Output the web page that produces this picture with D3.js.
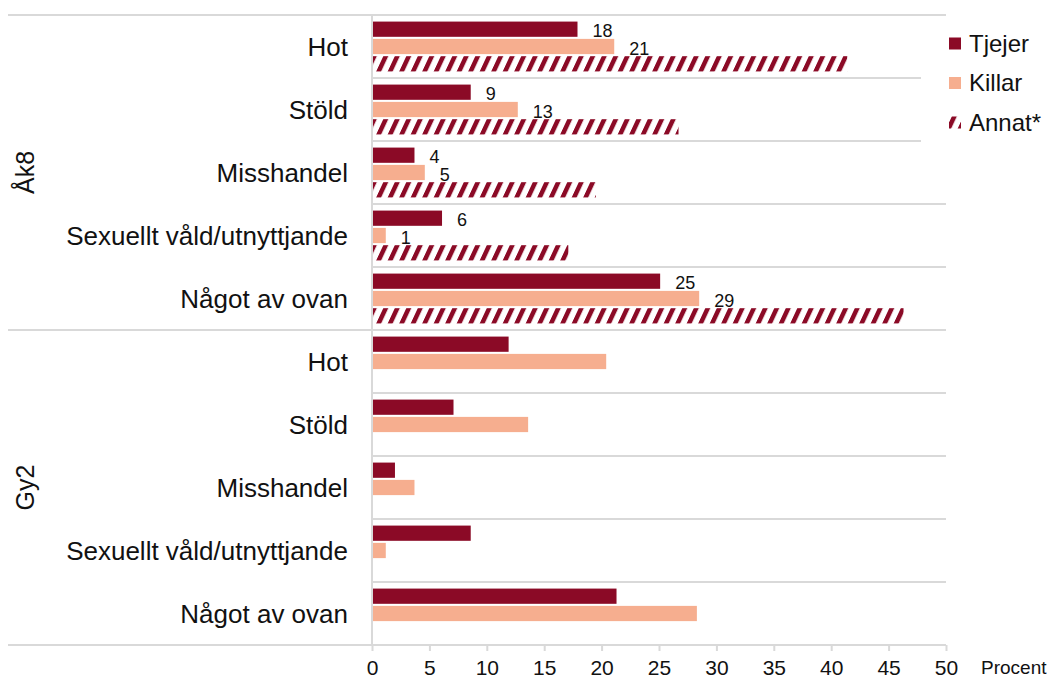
<!DOCTYPE html>
<html>
<head>
<meta charset="utf-8">
<script src="https://cdn.jsdelivr.net/npm/d3@7"></script>
<style>
  body { margin: 0; background: #fff; }
  svg { font-family: "Liberation Sans", Arial, sans-serif; display: block; }
</style>
</head>
<body>
<div id="chart"></div>
<script>
const groups = ['Åk8', 'Gy2'];
const categories = ['Hot', 'Stöld', 'Misshandel', 'Sexuellt våld/utnyttjande', 'Något av ovan'];
const series = ['Tjejer', 'Killar', 'Annat*'];
const xTicks = [0, 5, 10, 15, 20, 25, 30, 35, 40, 45, 50];

const ak8Tjejer = [17.9, 8.6, 3.7, 6.1, 25.1];
const ak8Killar = [21.1, 12.7, 4.6, 1.2, 28.5];
const ak8Annat = [41.4, 26.7, 19.5, 17.1, 46.3];
const gy2Tjejer = [11.9, 7.1, 2.0, 8.6, 21.3];
const gy2Killar = [20.4, 13.6, 3.7, 1.2, 28.3];

const colors = { 'Tjejer': '#8b0a26', 'Killar': '#f6ae8f', 'Annat*': 'url(#hatch)' };

const width = 1049;
const height = 680;
const margin = { top: 15, bottom: 35, left: 372, right: 103 };

const rows = [];
groups.forEach(g => categories.forEach((c, i) => {
  const vals = g === 'Åk8'
    ? [ak8Tjejer[i], ak8Killar[i], ak8Annat[i]]
    : [gy2Tjejer[i], gy2Killar[i], null];
  rows.push({ key: g + '|' + c, group: g, cat: c, values: series.map((s, j) => ({ s, v: vals[j], label: g === 'Åk8' && j < 2 })) });
}));

const svg = d3.select('#chart')
  .append('svg')
  .attr('width', width)
  .attr('height', height);

const defs = svg.append('defs');
const pat = defs.append('pattern')
  .attr('id', 'hatch')
  .attr('patternUnits', 'userSpaceOnUse')
  .attr('width', 11.5)
  .attr('height', 200)
  .attr('patternTransform', 'skewX(-25)');
pat.append('rect').attr('width', 11.5).attr('height', 200).attr('fill', '#fff');
pat.append('rect').attr('width', 5).attr('height', 200).attr('fill', '#8b0a26');

const x = d3.scaleLinear()
  .domain([0, 50])
  .range([margin.left, width - margin.right]);

const y = d3.scaleBand()
  .domain(rows.map(d => d.key))
  .range([margin.top, height - margin.bottom]);

const ySub = d3.scaleBand()
  .domain(series)
  .range([0, y.step()])
  .paddingInner(0.12)
  .paddingOuter(0.38);

const grid = '#d9d9d9';

// category separators
svg.append('g')
  .selectAll('line')
  .data(rows.filter((d, i) => i % 5 !== 0))
  .join('line')
    .attr('x1', x(0))
    .attr('x2', x(50))
    .attr('y1', d => y(d.key))
    .attr('y2', d => y(d.key))
    .attr('stroke', grid)
    .attr('stroke-width', 2);

// group separators
svg.append('g')
  .selectAll('line')
  .data([margin.top, y(rows[5].key), height - margin.bottom])
  .join('line')
    .attr('x1', 8)
    .attr('x2', x(50))
    .attr('y1', d => d)
    .attr('y2', d => d)
    .attr('stroke', grid)
    .attr('stroke-width', 2);

// bars
const rowG = svg.append('g')
  .selectAll('g')
  .data(rows)
  .join('g')
    .attr('transform', d => `translate(0, ${y(d.key)})`);

rowG.selectAll('rect')
  .data(d => d.values.filter(v => v.v != null))
  .join('rect')
    .attr('x', x(0))
    .attr('y', d => ySub(d.s))
    .attr('height', ySub.bandwidth())
    .attr('width', d => x(d.v) - x(0))
    .attr('fill', d => colors[d.s]);

rowG.selectAll('text')
  .data(d => d.values.filter(v => v.label))
  .join('text')
    .attr('x', d => x(d.v) + 15)
    .attr('y', d => ySub(d.s) + ySub.bandwidth() + 0.5)
    .attr('font-size', 18)
    .attr('fill', '#111')
    .text(d => d3.format('.0f')(d.v));

// vertical axis line
svg.append('line')
  .attr('x1', x(0)).attr('x2', x(0))
  .attr('y1', margin.top).attr('y2', height - margin.bottom)
  .attr('stroke', grid)
  .attr('stroke-width', 2);

// x axis
const xAxis = svg.append('g')
  .attr('transform', `translate(0, ${height - margin.bottom})`)
  .call(d3.axisBottom(x).tickValues(xTicks).tickSize(6).tickPadding(9).tickSizeOuter(0))
  .attr('font-size', 21)
  .attr('font-family', '"Liberation Sans", Arial, sans-serif');
xAxis.select('.domain').remove();
xAxis.selectAll('.tick line').attr('stroke', grid).attr('stroke-width', 2);
xAxis.selectAll('.tick text').attr('fill', '#111');

svg.append('text')
  .attr('x', 981)
  .attr('y', 674)
  .attr('font-size', 19)
  .attr('fill', '#111')
  .text('Procent');

// category labels
svg.append('g')
  .selectAll('text')
  .data(rows)
  .join('text')
    .attr('x', 348)
    .attr('y', d => y(d.key) + y.step() / 2)
    .attr('dy', '0.35em')
    .attr('text-anchor', 'end')
    .attr('font-size', 26)
    .attr('fill', '#111')
    .text(d => d.cat);

// group labels
svg.append('g')
  .selectAll('text')
  .data(groups)
  .join('text')
    .attr('transform', (g, i) => {
      const cy = y(rows[i * 5].key) + y.step() * 2.5;
      return `translate(34, ${cy}) rotate(-90)`;
    })
    .attr('text-anchor', 'middle')
    .attr('font-size', 25)
    .attr('fill', '#111')
    .text(d => d);

// legend
const legend = svg.append('g');
legend.append('rect')
  .attr('x', 921).attr('y', 25)
  .attr('width', 128).attr('height', 125)
  .attr('fill', '#fff');

const item = legend.selectAll('g')
  .data(series)
  .join('g')
    .attr('transform', (d, i) => `translate(949, ${43.5 + i * 39.5})`);

item.append('rect')
  .attr('x', 0).attr('y', -6)
  .attr('width', 12).attr('height', 12)
  .attr('fill', d => colors[d]);

item.append('text')
  .attr('x', 20)
  .attr('dy', '0.35em')
  .attr('font-size', 24)
  .attr('fill', '#111')
  .text(d => d);
</script>
</body>
</html>
